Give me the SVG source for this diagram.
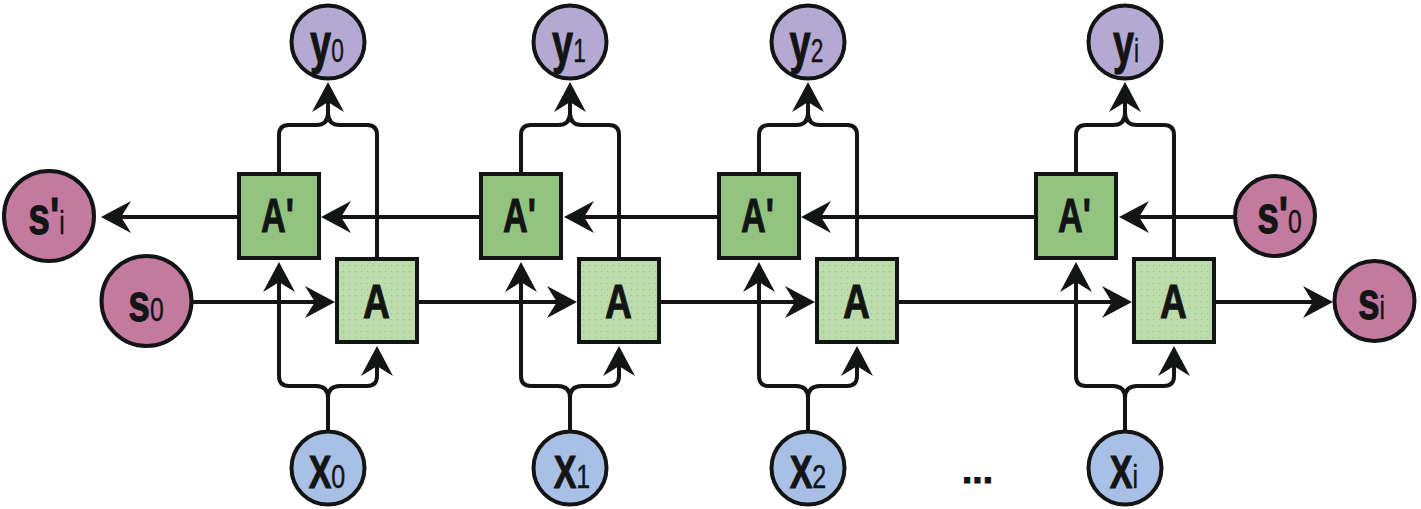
<svg xmlns="http://www.w3.org/2000/svg" width="1421" height="509" viewBox="0 0 1421 509">
<style>
.ln{fill:none;stroke:#131515;stroke-width:4;stroke-linejoin:round}
.ar{marker-end:url(#ah)}
.nd{stroke:#131515;stroke-width:4}
.y{fill:#b4a9d2}
.x{fill:#a9c0e6}
.s{fill:#c47a9f}
.ap{fill:#93c47f}
.a{fill:url(#dots)}
text{font-family:"Liberation Sans",Arial,sans-serif;fill:#131515;text-anchor:middle}
.m{font-weight:bold;stroke:#131515;stroke-width:1}
.sub{font-weight:normal;stroke:#131515;stroke-width:0.4}
</style>
<defs>
<marker id="ah" markerUnits="userSpaceOnUse" viewBox="-12 -18 34 36" markerWidth="34" markerHeight="36" refX="0" refY="0" orient="auto" overflow="visible">
<path d="M20,0 L-10,-16 Q-4,-6 0,0 Q-4,6 -10,16 Z" fill="#131515"/>
</marker>
<pattern id="dots" width="6" height="6" patternUnits="userSpaceOnUse">
<rect width="6" height="6" fill="#bddcab"/>
<circle cx="1.5" cy="1.5" r="0.6" fill="#8fb381"/>
</pattern>
</defs>

<g id="connectors">
<path class="ln ar" d="M192,302 H315"/>
<path class="ln ar" d="M419,302 H557"/>
<path class="ln ar" d="M661,302 H795"/>
<path class="ln ar" d="M899,302 H1112"/>
<path class="ln ar" d="M1216,302 H1313"/>
<path class="ln ar" d="M1235,217 H1139"/>
<path class="ln ar" d="M1034,217 H821"/>
<path class="ln ar" d="M717,217 H584"/>
<path class="ln ar" d="M479,217 H341"/>
<path class="ln ar" d="M237,217 H121"/>
<path class="ln" d="M279,172 V135 Q279,125 289,125 H316 Q328,125 328,113"/>
<path class="ln" d="M377,257 V135 Q377,125 367,125 H340 Q328,125 328,113"/>
<path class="ln ar" d="M328,114 V102"/>
<path class="ln ar" d="M328,431 V398 Q328,386 316,386 H289 Q279,386 279,376 V282"/>
<path class="ln ar" d="M328,431 V398 Q328,386 340,386 H367 Q377,386 377,376 V366"/>
<path class="ln" d="M521,172 V135 Q521,125 531,125 H558 Q570,125 570,113"/>
<path class="ln" d="M619,257 V135 Q619,125 609,125 H582 Q570,125 570,113"/>
<path class="ln ar" d="M570,114 V102"/>
<path class="ln ar" d="M570,431 V398 Q570,386 558,386 H531 Q521,386 521,376 V282"/>
<path class="ln ar" d="M570,431 V398 Q570,386 582,386 H609 Q619,386 619,376 V366"/>
<path class="ln" d="M759,172 V135 Q759,125 769,125 H796 Q808,125 808,113"/>
<path class="ln" d="M857,257 V135 Q857,125 847,125 H820 Q808,125 808,113"/>
<path class="ln ar" d="M808,114 V102"/>
<path class="ln ar" d="M808,431 V398 Q808,386 796,386 H769 Q759,386 759,376 V282"/>
<path class="ln ar" d="M808,431 V398 Q808,386 820,386 H847 Q857,386 857,376 V366"/>
<path class="ln" d="M1076,172 V135 Q1076,125 1086,125 H1113 Q1125,125 1125,113"/>
<path class="ln" d="M1174,257 V135 Q1174,125 1164,125 H1137 Q1125,125 1125,113"/>
<path class="ln ar" d="M1125,114 V102"/>
<path class="ln ar" d="M1125,431 V398 Q1125,386 1113,386 H1086 Q1076,386 1076,376 V282"/>
<path class="ln ar" d="M1125,431 V398 Q1125,386 1137,386 H1164 Q1174,386 1174,376 V366"/>
</g>

<g id="Ap0"><rect class="nd ap" x="239" y="174" width="80" height="84"/><text class="m" font-size="49" transform="translate(277.5,232) scale(0.7,1)">A'</text></g>
<g id="Ap1"><rect class="nd ap" x="481" y="174" width="80" height="84"/><text class="m" font-size="49" transform="translate(519.5,232) scale(0.7,1)">A'</text></g>
<g id="Ap2"><rect class="nd ap" x="719" y="174" width="80" height="84"/><text class="m" font-size="49" transform="translate(757.5,232) scale(0.7,1)">A'</text></g>
<g id="Api"><rect class="nd ap" x="1036" y="174" width="80" height="84"/><text class="m" font-size="49" transform="translate(1074.5,232) scale(0.7,1)">A'</text></g>

<g id="A0"><rect class="nd a" x="337" y="259" width="80" height="83"/><text class="m" font-size="49" transform="translate(376.5,318) scale(0.76,1)">A</text></g>
<g id="A1"><rect class="nd a" x="579" y="259" width="80" height="83"/><text class="m" font-size="49" transform="translate(618.5,318) scale(0.76,1)">A</text></g>
<g id="A2"><rect class="nd a" x="817" y="259" width="80" height="83"/><text class="m" font-size="49" transform="translate(856.5,318) scale(0.76,1)">A</text></g>
<g id="Ai"><rect class="nd a" x="1134" y="259" width="80" height="83"/><text class="m" font-size="49" transform="translate(1173.5,318) scale(0.76,1)">A</text></g>

<g id="y0"><circle class="nd y" cx="328" cy="42" r="36.5"/><text transform="translate(327,62) scale(0.69,1)"><tspan class="m" font-size="55">y</tspan><tspan class="sub" font-size="33">0</tspan></text></g>
<g id="y1"><circle class="nd y" cx="570" cy="42" r="36.5"/><text transform="translate(569,62) scale(0.69,1)"><tspan class="m" font-size="55">y</tspan><tspan class="sub" font-size="33">1</tspan></text></g>
<g id="y2"><circle class="nd y" cx="808" cy="42" r="36.5"/><text transform="translate(806.5,62) scale(0.69,1)"><tspan class="m" font-size="55">y</tspan><tspan class="sub" font-size="33">2</tspan></text></g>
<g id="yi"><circle class="nd y" cx="1125" cy="42" r="36.5"/><text transform="translate(1126,62) scale(0.69,1)"><tspan class="m" font-size="55">y</tspan><tspan class="sub" font-size="33">i</tspan></text></g>

<g id="x0"><circle class="nd x" cx="328" cy="468" r="36.5"/><text transform="translate(327,488) scale(0.74,1)"><tspan class="m" font-size="46">X</tspan><tspan class="sub" font-size="34">0</tspan></text></g>
<g id="x1"><circle class="nd x" cx="570" cy="468" r="36.5"/><text transform="translate(572,488) scale(0.74,1)"><tspan class="m" font-size="46">X</tspan><tspan class="sub" font-size="34">1</tspan></text></g>
<g id="x2"><circle class="nd x" cx="808" cy="468" r="36.5"/><text transform="translate(808,488) scale(0.74,1)"><tspan class="m" font-size="46">X</tspan><tspan class="sub" font-size="34">2</tspan></text></g>
<g id="xi"><circle class="nd x" cx="1125" cy="468" r="36.5"/><text transform="translate(1124,488) scale(0.74,1)"><tspan class="m" font-size="46">X</tspan><tspan class="sub" font-size="34">i</tspan></text></g>

<g id="spi"><circle class="nd s" cx="49" cy="216" r="45"/><text transform="translate(46.5,234) scale(0.75,1)"><tspan class="m" font-size="52">s'</tspan><tspan class="sub" font-size="33">i</tspan></text></g>
<g id="s0"><circle class="nd s" cx="146.5" cy="301" r="45"/><text transform="translate(146,321) scale(0.75,1)"><tspan class="m" font-size="52">s</tspan><tspan class="sub" font-size="33">0</tspan></text></g>
<g id="sp0"><circle class="nd s" cx="1275" cy="216" r="40"/><text transform="translate(1279.5,233) scale(0.75,1)"><tspan class="m" font-size="52">s'</tspan><tspan class="sub" font-size="33">0</tspan></text></g>
<g id="si"><circle class="nd s" cx="1374.5" cy="301" r="40"/><text transform="translate(1371.5,319) scale(0.75,1)"><tspan class="m" font-size="52">s</tspan><tspan class="sub" font-size="33">i</tspan></text></g>

<g id="ellipsis"><text class="m" x="977.5" y="483" font-size="37">...</text></g>
</svg>
